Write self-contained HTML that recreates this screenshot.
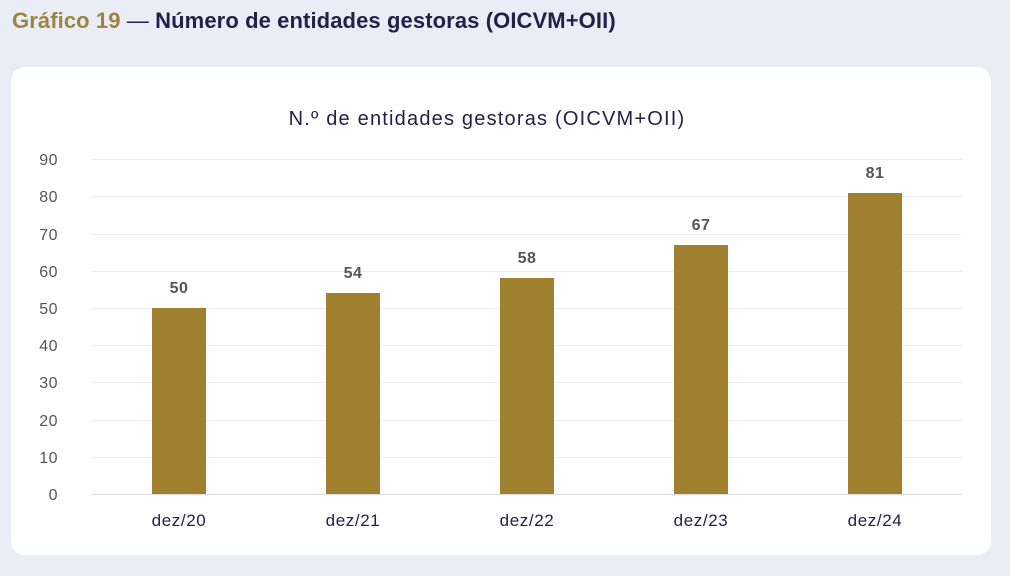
<!DOCTYPE html>
<html><head><meta charset="utf-8"><style>
body{margin:0;width:1010px;height:576px;background:#ebedf6;font-family:"Liberation Sans",sans-serif;position:relative;overflow:hidden}
.t{position:absolute;left:12px;top:8px;font-size:22px;font-weight:bold;color:#23214a;letter-spacing:0.1px;white-space:nowrap}
.t span{color:#9c8441}
.card{position:absolute;left:11px;top:67px;width:980px;height:488px;background:#fff;border-radius:14px}
</style></head><body>
<div class="t"><span>Gráfico 19</span> <span style="color:#23214a;font-weight:normal">—</span> Número de entidades gestoras (OICVM+OII)</div>
<div class="card"></div>
<svg width="1010" height="576" style="position:absolute;left:0;top:0" font-family="Liberation Sans, sans-serif">
<text x="487" y="125" text-anchor="middle" font-size="20" fill="#23214a" letter-spacing="1.2">N.º de entidades gestoras (OICVM+OII)</text>
<g stroke="#ececf0" stroke-width="1">
<line x1="92" x2="962" y1="159.5" y2="159.5"/><line x1="92" x2="962" y1="196.5" y2="196.5"/><line x1="92" x2="962" y1="234.5" y2="234.5"/><line x1="92" x2="962" y1="271.5" y2="271.5"/><line x1="92" x2="962" y1="308.5" y2="308.5"/><line x1="92" x2="962" y1="345.5" y2="345.5"/><line x1="92" x2="962" y1="382.5" y2="382.5"/><line x1="92" x2="962" y1="420.5" y2="420.5"/><line x1="92" x2="962" y1="457.5" y2="457.5"/><line x1="92" x2="962" y1="494.5" y2="494.5" stroke="#dcdce2"/>
</g>
<g font-size="16" fill="#555" text-anchor="end" letter-spacing="0.5">
<text x="58" y="165">90</text><text x="58" y="202">80</text><text x="58" y="240">70</text><text x="58" y="277">60</text><text x="58" y="314">50</text><text x="58" y="351">40</text><text x="58" y="388">30</text><text x="58" y="426">20</text><text x="58" y="463">10</text><text x="58" y="500">0</text>
</g>
<g fill="#a07f2e">
<rect x="152" y="308" width="54" height="186"/><rect x="326" y="293" width="54" height="201"/><rect x="500" y="278" width="54" height="216"/><rect x="674" y="245" width="54" height="249"/><rect x="848" y="193" width="54" height="301"/>
</g>
<g font-size="16" font-weight="bold" fill="#555" text-anchor="middle" letter-spacing="0.5">
<text x="179" y="293">50</text><text x="353" y="278">54</text><text x="527" y="263">58</text><text x="701" y="230">67</text><text x="875" y="178">81</text>
</g>
<g font-size="17" fill="#23214a" text-anchor="middle" letter-spacing="0.6">
<text x="179" y="526">dez/20</text><text x="353" y="526">dez/21</text><text x="527" y="526">dez/22</text><text x="701" y="526">dez/23</text><text x="875" y="526">dez/24</text>
</g>
</svg>
</body></html>
